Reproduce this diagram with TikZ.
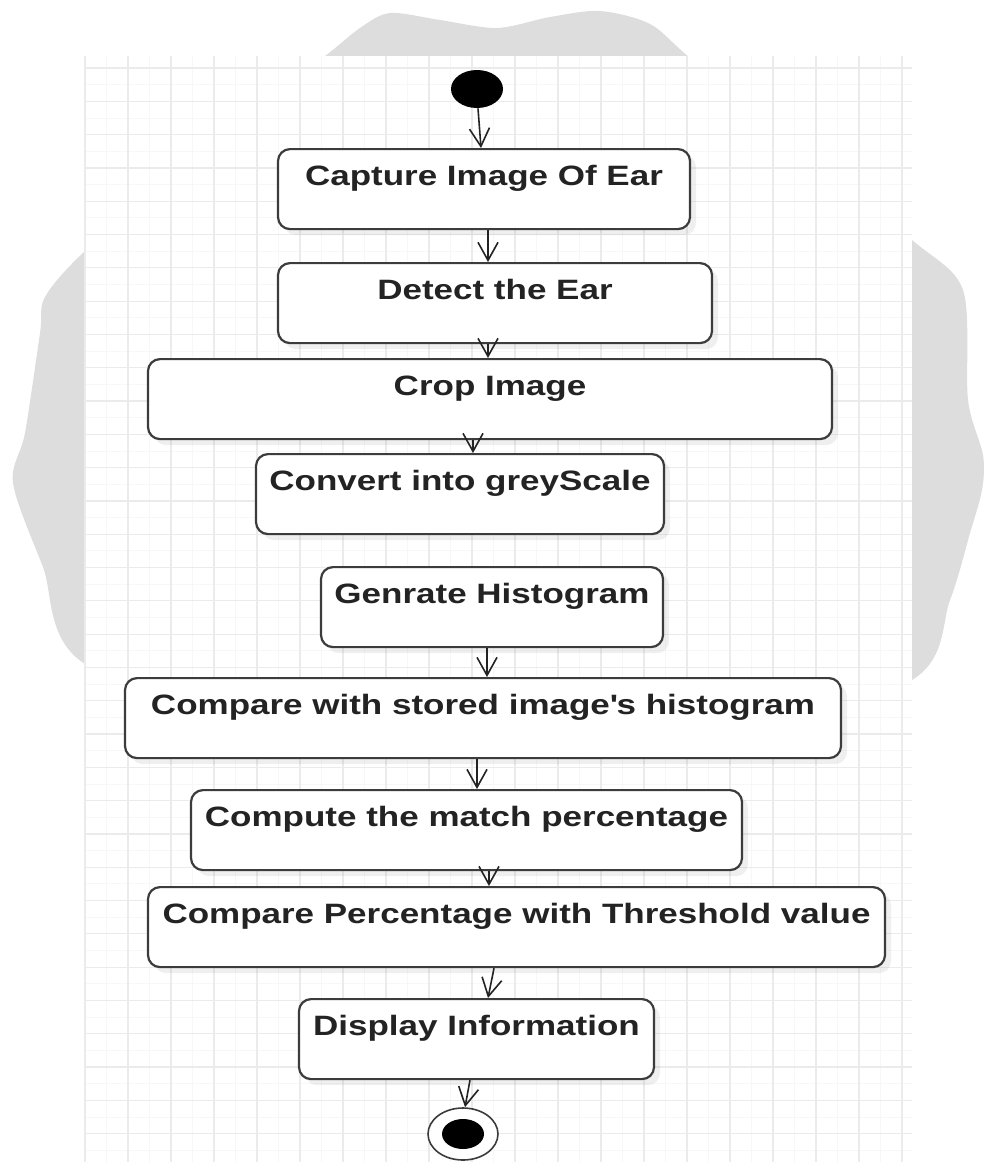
\documentclass[tikz,border=0pt]{standalone}
\usepackage{fontspec}
\setmainfont{Liberation Sans}[FakeStretch=1.25]
\usetikzlibrary{arrows.meta,shapes.geometric,shadows}
\definecolor{fleck}{RGB}{221,221,221}
\definecolor{linie}{RGB}{60,60,60}
\definecolor{schrift}{RGB}{35,35,35}
\tikzset{
  aktion/.style={draw=linie,line width=1.1pt,fill=white,rounded corners=6pt,
    anchor=north,inner xsep=0pt,inner ysep=0pt,
    % Text sitzt oben im Kasten:
    text height=18pt,text depth=22pt,
    font=\fontsize{14}{16}\selectfont\bfseries,text=schrift,
    minimum width=#1,
    drop shadow={shadow xshift=3pt,shadow yshift=-3pt,opacity=.12}
  },
  aktion/.default=200pt,% voreingestellte Breite
  punkt/.style={ellipse,fill=black,inner sep=0pt},
  pfeil/.style={draw=schrift,line width=.8pt,-{Straight Barb[length=9pt,width=10pt]}},
  gitter/.style={draw=black!8,line width=.6pt},
  feingitter/.style={draw=black!3,line width=.5pt}
}
\begin{document}
\begin{tikzpicture}[x=0.5pt,y=-0.5pt]
\useasboundingbox (0,0) rectangle (984,1162);
% grauer Fleck hinter dem Blatt
\fill[fleck] plot[smooth cycle,tension=.5] coordinates {
  (320,60) (360,28) (390,13) (440,20) (497,28) (550,17) (600,11) (650,24) (690,58)
  (800,150) (912,240) (963,290) (968,400) (983,455) (982,490) (970,533) (950,600) (912,680)
  (700,750) (500,760) (300,750)
  (82,662) (43,567) (13,483) (25,433) (40,333) (45,297) (86,250) (200,150)};
% Blatt mit Raster
\fill[white] (86,56) rectangle (912,1162);
\foreach \i in {0,...,18}
  \draw[feingitter] ({106.5+43*\i},56) -- ({106.5+43*\i},1162);
\foreach \j in {0,...,32}
  \draw[feingitter] (86,{84.7+33.3*\j}) -- (912,{84.7+33.3*\j});
\foreach \i in {0,...,19}
  \draw[gitter] ({85+43*\i},56) -- ({85+43*\i},1162);
\foreach \j in {0,...,32}
  \draw[gitter] (86,{68+33.3*\j}) -- (912,{68+33.3*\j});
% Start und Aktionen
\node[punkt,minimum width=26pt,minimum height=19pt] (start) at (477,89) {};
\node[aktion=206pt] (cap) at (484,148) {Capture Image Of Ear};
\node[aktion=217pt] (det) at (495,262) {Detect the Ear};
\node[aktion=342pt] (crop) at (490,358) {Crop Image};
\node[aktion=204pt] (conv) at (460,453) {Convert into greyScale};
\node[aktion=171pt] (gen) at (492,566) {Genrate Histogram};
\node[aktion=358pt] (cmp) at (483,677) {Compare with stored image\textquotesingle s histogram};
\node[aktion=275.5pt] (comp) at (466.5,789) {Compute the match percentage};
\node[aktion=368.5pt] (thr) at (516.5,886) {Compare Percentage with Threshold value};
\node[aktion=177.5pt] (disp) at (476.5,998) {Display Information};
% Ende
\node[ellipse,draw=linie,line width=.8pt,fill=white,inner sep=0pt,
  minimum width=35pt,minimum height=26pt] (ende) at (463,1134) {};
\node[punkt,minimum width=21pt,minimum height=15pt] (endpunkt) at (ende) {};
% Pfeile (x-Werte am Anfang und am Ende)
\foreach \von/\nach/\xa/\xb in {start/cap/478/481,cap/det/488/488,det/crop/488/488,
    crop/conv/473/473,gen/cmp/487/487,cmp/comp/477/477,comp/thr/489/489,
    thr/disp/494/488,disp/ende/470/465}
  \draw[pfeil] (\von.south -| \xa,0) -- (\nach.north -| \xb,0);
\end{tikzpicture}
\end{document}
